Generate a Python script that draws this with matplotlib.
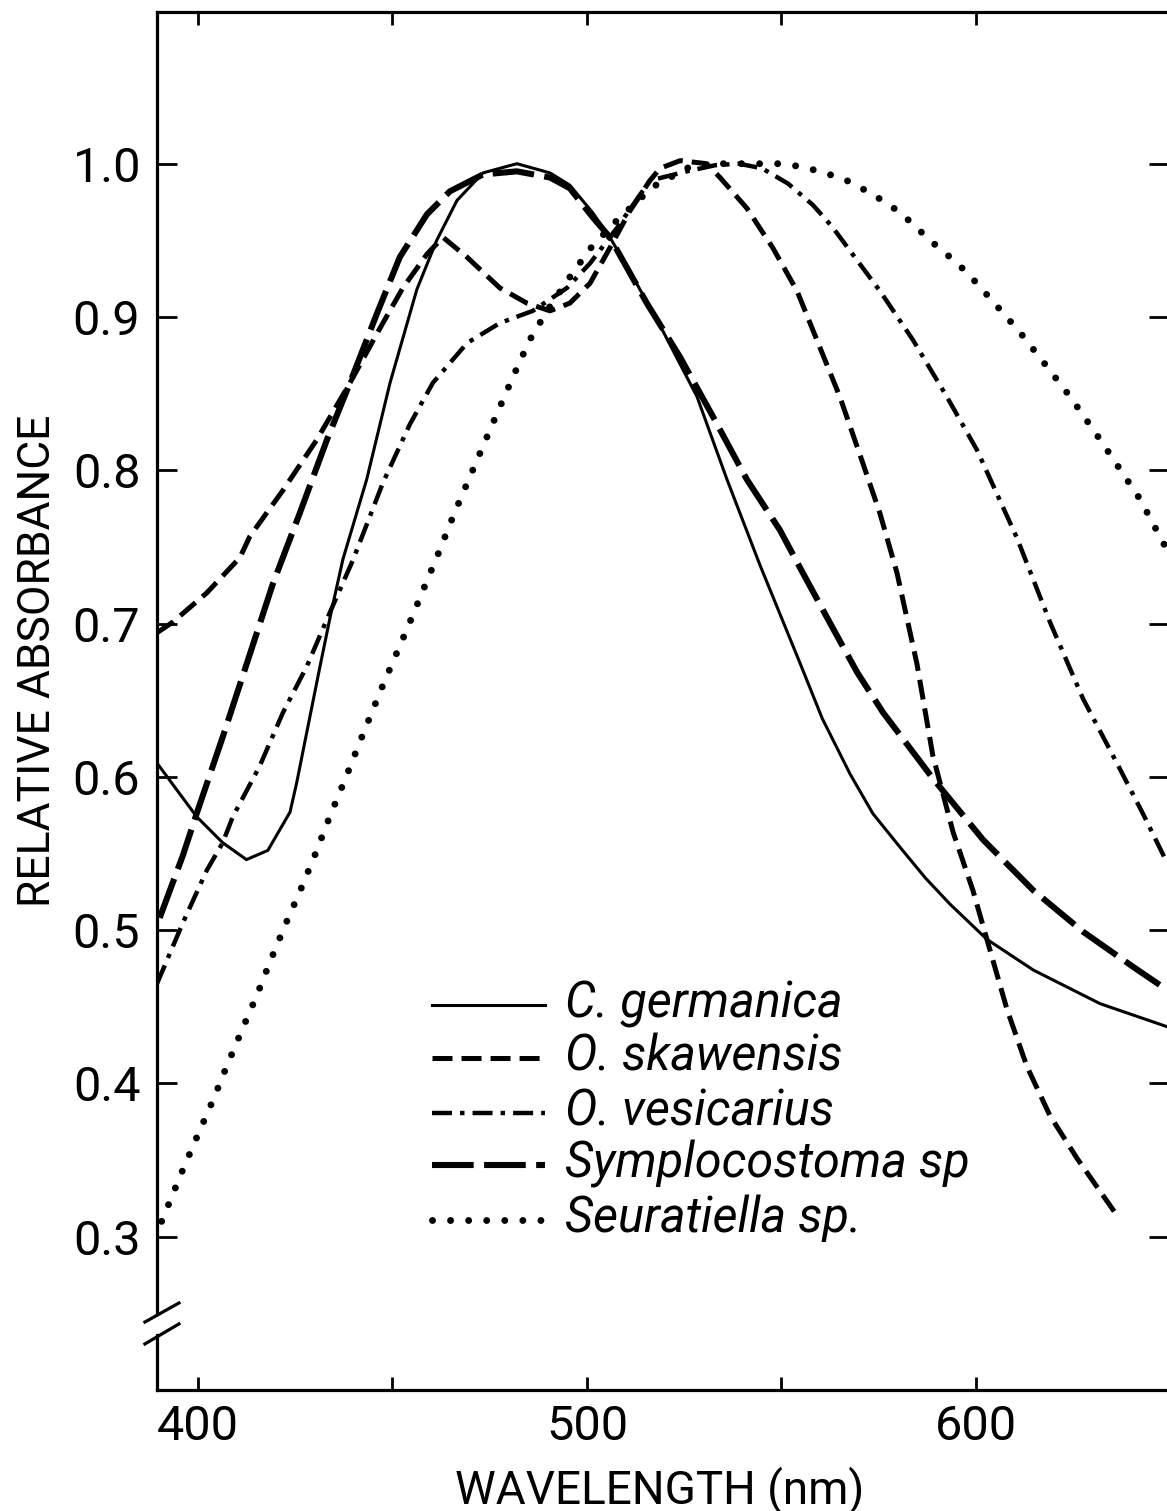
import matplotlib
matplotlib.use("Agg")
import matplotlib.pyplot as plt

plt.rcParams['font.family'] = ['Roboto', 'DejaVu Sans']
plt.rcParams['lines.scale_dashes'] = False

germ_nm = [389.5, 399.7, 406.4, 412.5, 418.0, 423.7, 425.4, 428.0, 431.4, 434.4, 437.3,
           443.4, 449.4, 456.3, 461.4, 466.6, 473.3, 482.0, 490.5, 495.6, 501.5, 505.9,
           511.0, 519.5, 528.3, 536.0, 544.5, 554.8, 560.5, 567.6, 573.5, 580.5, 587.0,
           593.3, 602.8, 614.7, 631.9, 649.1]
germ_abs = [0.609, 0.574, 0.557, 0.546, 0.552, 0.577, 0.596, 0.629, 0.672, 0.709, 0.742,
            0.794, 0.857, 0.918, 0.950, 0.976, 0.994, 1.000, 0.994, 0.986, 0.968, 0.952,
            0.930, 0.891, 0.848, 0.794, 0.738, 0.674, 0.638, 0.602, 0.576, 0.554, 0.534,
            0.517, 0.494, 0.474, 0.452, 0.437]

skaw_nm = [389.5, 393.6, 402.3, 410.8, 413.4, 421.9, 430.6, 439.1, 446.0, 452.7, 458.9,
           463.0, 469.2, 477.6, 484.6, 490.5, 495.6, 500.8, 505.9, 511.0, 516.2, 518.8,
           524.0, 530.8, 534.2, 541.1, 547.8, 554.0, 559.9, 565.0, 571.0, 575.3, 579.7,
           584.8, 588.9, 594.1, 599.2, 602.8, 608.0, 613.1, 619.0, 626.0, 636.2]
skaw_abs = [0.694, 0.701, 0.720, 0.743, 0.757, 0.787, 0.820, 0.857, 0.889, 0.919, 0.941,
            0.952, 0.939, 0.919, 0.909, 0.904, 0.909, 0.922, 0.945, 0.969, 0.989, 0.997,
            1.002, 1.000, 0.991, 0.971, 0.945, 0.917, 0.880, 0.848, 0.804, 0.772, 0.733,
            0.674, 0.614, 0.564, 0.526, 0.494, 0.448, 0.411, 0.379, 0.351, 0.314]

vesi_nm = [389.5, 396.2, 402.3, 406.4, 409.0, 415.9, 421.9, 428.0, 433.9, 439.8, 447.6,
           454.5, 460.4, 469.2, 477.6, 486.1, 494.9, 500.8, 507.7, 516.2, 525.7, 533.0,
           539.0, 545.0, 551.7, 558.1, 563.0, 566.8, 575.3, 583.8, 592.5, 600.3, 610.5,
           619.0, 627.5, 636.2, 642.9, 649.1]
vesi_abs = [0.465, 0.505, 0.539, 0.557, 0.574, 0.607, 0.642, 0.672, 0.707, 0.741, 0.792,
            0.830, 0.857, 0.883, 0.896, 0.904, 0.919, 0.935, 0.958, 0.989, 0.995, 0.999,
            1.000, 0.997, 0.987, 0.973, 0.959, 0.946, 0.917, 0.885, 0.848, 0.813, 0.756,
            0.701, 0.651, 0.609, 0.576, 0.544]

symp_nm = [390.2, 396.2, 399.7, 406.4, 412.6, 419.3, 426.2, 433.2, 439.1, 446.0, 451.9,
           458.9, 464.8, 473.3, 482.0, 490.5, 495.6, 501.5, 505.9, 515.4, 523.9, 532.4,
           541.1, 549.6, 555.5, 563.2, 569.5, 576.1, 588.9, 601.8, 614.7, 627.5, 640.4, 649.1]
symp_abs = [0.508, 0.549, 0.576, 0.626, 0.674, 0.726, 0.772, 0.820, 0.857, 0.902, 0.939,
            0.967, 0.982, 0.993, 0.995, 0.991, 0.984, 0.965, 0.952, 0.909, 0.874, 0.835,
            0.794, 0.761, 0.733, 0.697, 0.668, 0.642, 0.599, 0.559, 0.526, 0.499, 0.476, 0.461]

seur_nm = [390.7, 396.2, 400.1, 403.9, 407.4, 411.2, 415.1, 418.5, 422.4, 426.2, 430.1,
           433.9, 437.8, 442.0, 447.6, 453.7, 457.6, 461.7, 466.1, 472.5, 476.9, 481.0,
           485.3, 490.0, 496.4, 501.0, 507.7, 517.0, 526.5, 535.0, 544.5, 549.6, 555.3,
           561.2, 566.8, 572.8, 578.4, 582.3, 586.1, 590.0, 593.8, 597.7, 604.4, 611.3,
           617.5, 624.2, 631.9, 642.2, 649.1]
seur_abs = [0.310, 0.344, 0.367, 0.389, 0.411, 0.434, 0.457, 0.479, 0.503, 0.525, 0.549,
            0.574, 0.598, 0.625, 0.660, 0.696, 0.720, 0.745, 0.773, 0.811, 0.837, 0.861,
            0.885, 0.905, 0.929, 0.945, 0.963, 0.985, 0.998, 1.000, 1.000, 1.000, 0.998,
            0.994, 0.989, 0.981, 0.972, 0.964, 0.955, 0.946, 0.938, 0.929, 0.910, 0.890,
            0.870, 0.848, 0.820, 0.781, 0.748]

labels = ['C. germanica', 'O. skawensis', 'O. vesicarius', 'Symplocostoma sp', 'Seuratiella sp.']
xs = [germ_nm, skaw_nm, vesi_nm, symp_nm, seur_nm]
ys = [germ_abs, skaw_abs, vesi_abs, symp_abs, seur_abs]

styles = [
    dict(lw=2.2, ls='-'),
    dict(lw=3.6, ls=(0, (14.4, 6.5)), dash_capstyle='butt'),
    dict(lw=3.2, ls=(0, (14.4, 5.8, 3.2, 5.8)), dash_capstyle='butt'),
    dict(lw=4.4, ls=(0, (30, 7.5)), dash_capstyle='butt'),
    dict(lw=5.0, ls=(0, (0.01, 13)), dash_capstyle='round'),
]

fig = plt.figure(figsize=(11.67, 15.11), dpi=100)
ax = fig.add_axes([0.1345, 0.0801, 0.8672, 0.9120])

for x, y, st in zip(xs, ys, styles):
    ax.plot(x, y, color='black', **st)

ax.set_xlim(389.5, 649.6)
ax.set_ylim(0.2, 1.099)

ax.set_xticks([400, 500, 600])
ax.set_xticks([450, 550], minor=True)
ax.set_yticks([0.3, 0.4, 0.5, 0.6, 0.7, 0.8, 0.9, 1.0])
ax.set_yticklabels(['%.1f' % v for v in [0.3, 0.4, 0.5, 0.6, 0.7, 0.8, 0.9, 1.0]])

ax.tick_params(axis='x', which='both', direction='in', length=9.4, width=2.0,
               top=True, bottom=True, labelsize=35, pad=10)
ax.tick_params(axis='y', direction='in', length=14.4, width=2.0,
               left=True, right=True, labelsize=35, pad=12)

for side in ['top', 'bottom', 'right']:
    ax.spines[side].set_linewidth(2.3)
ax.spines['left'].set_visible(False)

# left spine with an axis break
ax.plot([0, 0], [0, 0.040], transform=ax.transAxes, color='black', lw=2.3, clip_on=False)
ax.plot([0, 0], [0.055, 1], transform=ax.transAxes, color='black', lw=2.3, clip_on=False)
ax.plot([-0.0119, 0.0217], [0.0493, 0.0631], transform=ax.transAxes, color='black', lw=2.3, clip_on=False)
ax.plot([-0.0119, 0.0217], [0.0334, 0.0479], transform=ax.transAxes, color='black', lw=2.3, clip_on=False)

ax.set_xlabel('WAVELENGTH (nm)', fontsize=33)
ax.xaxis.set_label_coords(0.497, -0.082)
ax.xaxis.label.set_va('baseline')
ax.set_ylabel('RELATIVE ABSORBANCE', fontsize=32)
ax.yaxis.set_label_coords(-0.1057, 0.529)
ax.yaxis.label.set_va('baseline')

# legend drawn by hand, as in the original figure
rows = [0.2794, 0.2409, 0.2010, 0.1633, 0.1234]
for ry, lab, st in zip(rows, labels, styles):
    ax.plot([0.2717, 0.3834], [ry, ry], transform=ax.transAxes, color='black', **st)
    ax.text(0.4032, ry - 0.009, lab, transform=ax.transAxes, fontsize=35,
            style='italic', va='baseline', ha='left')

fig.savefig('out.png', dpi=100)
